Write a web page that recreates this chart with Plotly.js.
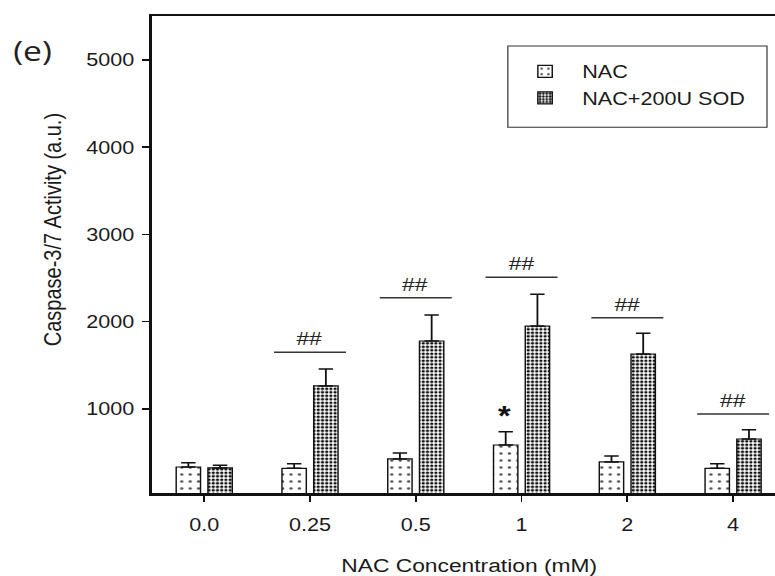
<!DOCTYPE html>
<html>
<head>
<meta charset="utf-8">
<script src="https://cdn.plot.ly/plotly-3.0.1.min.js"></script>
<style>
html,body{margin:0;padding:0;overflow:hidden;width:775px;height:576px;background:#fff;}
#chart{width:660px;height:576px;transform:scaleX(1.2);transform-origin:0 0;}
</style>
</head>
<body>
<div id="chart"></div>
<script>
// ---- data ----
const categories = ["0.0", "0.25", "0.5", "1", "2", "4"];
const nacValues = [335, 320, 427, 587, 393, 320];
const nacErrors = [50, 53, 69, 153, 68, 53];
const sodValues = [324, 1264, 1779, 1951, 1630, 656];
const sodErrors = [31, 195, 298, 364, 237, 107];
const sigLevels = [null, 1650, 2276, 2509, 2046, 943];
const sigLabel = "##";
const starCategory = "1";
const starLevel = 954;
const seriesNames = ["NAC", "NAC+200U SOD"];

const FONT = "Liberation Sans, Arial, Helvetica, sans-serif";
const TXT = "#1a1a1a";

const traces = [
  {
    type: "bar", name: seriesNames[0], x: categories, y: nacValues,
    marker: {color: "#ffffff", line: {color: "#111", width: 1.2},
      pattern: {shape: ".", size: 7, solidity: 0.12, fgcolor: "#555", bgcolor: "#ffffff", fillmode: "replace"}},
    error_y: {type: "data", symmetric: false, array: nacErrors, arrayminus: nacErrors.map(() => 0),
      color: "#111", thickness: 1.5, width: 6}
  },
  {
    type: "bar", name: seriesNames[1], x: categories, y: sodValues,
    marker: {color: "#ffffff", line: {color: "#111", width: 1.2},
      pattern: {shape: ".", size: 3.5, solidity: 0.5, fgcolor: "#111", bgcolor: "#ffffff", fillmode: "replace"}},
    error_y: {type: "data", symmetric: false, array: sodErrors, arrayminus: sodErrors.map(() => 0),
      color: "#111", thickness: 1.5, width: 6}
  }
];

const shapes = [];
const annotations = [];
sigLevels.forEach((v, i) => {
  if (v === null) return;
  shapes.push({type: "line", xref: "x", yref: "y", x0: i - 0.34, x1: i + 0.34, y0: v, y1: v,
    line: {color: "#333", width: 1.5}});
  annotations.push({xref: "x", yref: "y", x: i, y: v, text: sigLabel, showarrow: false,
    yanchor: "bottom", yshift: 1, font: {family: FONT, size: 19, color: "#222"}});
});
annotations.push({xref: "x", yref: "y", x: categories.indexOf(starCategory), y: starLevel, text: "<b>*</b>", showarrow: false,
  xshift: -14, yshift: -3, yanchor: "middle", font: {family: FONT, size: 27, color: "#111"}});
// legend box
shapes.push({type: "rect", xref: "paper", yref: "paper", x0: 0.561, x1: 0.970, y0: 0.767, y1: 0.937,
  line: {color: "#333", width: 1}, fillcolor: "rgba(0,0,0,0)"});
// panel label
annotations.push({xref: "paper", yref: "paper", x: -0.19, y: 0.929, text: "(e)", showarrow: false,
  xanchor: "center", yanchor: "middle", font: {family: "Open Sans, Lato, sans-serif", size: 28, color: "#222"}});
// y title
annotations.push({xref: "paper", yref: "paper", x: -0.157, y: 0.551, text: "Caspase-3/7 Activity (a.u.)",
  textangle: -90, showarrow: false, xanchor: "center", yanchor: "middle",
  font: {family: FONT, size: 20, color: TXT}});

const layout = {
  width: 660, height: 576,
  margin: {l: 127, r: 5, t: 16, b: 83},
  paper_bgcolor: "#ffffff", plot_bgcolor: "#ffffff",
  barmode: "group", bargap: 0.40, bargroupgap: 0.233,
  font: {family: FONT, color: TXT},
  xaxis: {
    type: "category", range: [-0.49, 5.5], showgrid: false, zeroline: false,
    showline: true, linecolor: "#111", linewidth: 2.5, mirror: true,
    ticks: "outside", ticklen: 6, tickwidth: 1.5, tickcolor: "#111", ticklabelstandoff: 8,
    tickfont: {family: FONT, size: 18, color: TXT},
    title: {text: "NAC Concentration (mM)", font: {family: FONT, size: 19, color: TXT}, standoff: 25}
  },
  yaxis: {
    range: [37, 5504], showgrid: false, zeroline: false,
    showline: true, linecolor: "#111", linewidth: 2.5, mirror: true,
    tickvals: [1000, 2000, 3000, 4000, 5000], ticktext: ["1000", "2000", "3000", "4000", "5000"],
    ticks: "outside", ticklen: 6, tickwidth: 1.5, tickcolor: "#111", ticklabelstandoff: 3,
    tickfont: {family: FONT, size: 18, color: TXT}
  },
  showlegend: true,
  legend: {x: 0.561, y: 0.922, xanchor: "left", yanchor: "top", bgcolor: "rgba(0,0,0,0)",
    borderwidth: 0, itemwidth: 52, font: {family: FONT, size: 18, color: TXT}, tracegroupgap: 0},
  shapes: shapes,
  annotations: annotations
};

Plotly.newPlot("chart", traces, layout, {displayModeBar: false, staticPlot: true});
</script>
</body>
</html>
